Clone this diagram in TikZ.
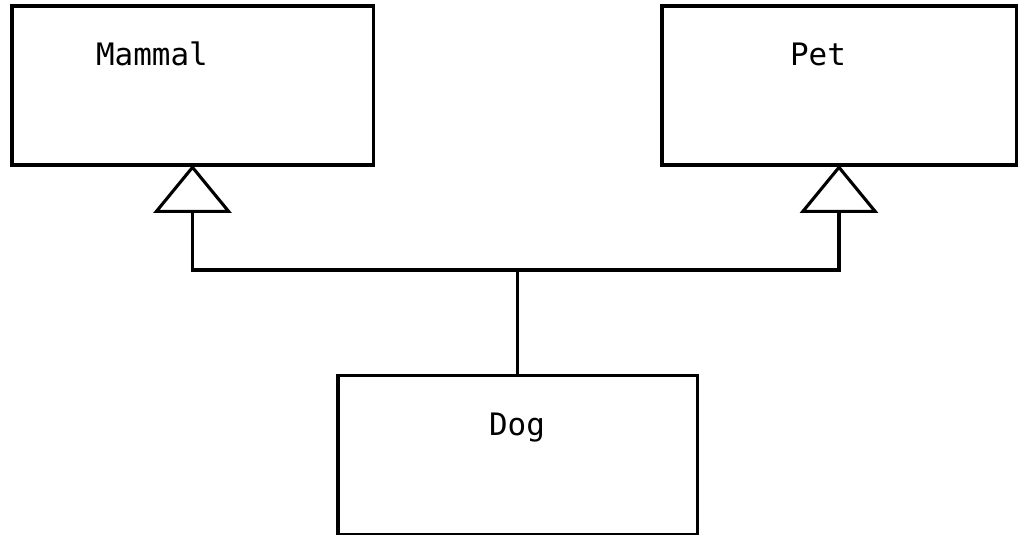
\documentclass[tikz,border=0pt]{standalone}
\usepackage{fontspec}
\newfontfamily\umlfont{DejaVu Sans Mono}
\usetikzlibrary{arrows.meta}
\begin{document}
\begin{tikzpicture}[x=0.025cm, y=-0.025cm, line width=2.2pt,
  classbox/.style={draw, rectangle, line width=2.2pt, minimum height=3.975cm},
  classname/.style={anchor=base, font=\umlfont\fontsize{22}{26}\selectfont},
  isa/.style={-{Triangle[open, width=1.95cm, length=1.2cm, line width=2.2pt]}, shorten >=-1.2pt}]
\useasboundingbox (0,0) rectangle (1028,534);
\node[classbox, minimum width=9.025cm] (Mammal) at (192.5,85.5) {};
\node[classbox, minimum width=8.85cm] (Pet) at (839,85.5) {};
\node[classbox, minimum width=8.975cm] (Dog) at (517.5,455) {};
\node[classname] (MammalName) at (152,65) {Mammal};
\node[classname] (PetName) at (818,65) {Pet};
\node[classname] (DogName) at (517,435) {Dog};

\coordinate (join) at (517.5,270);
\draw (Dog.north) -- (join);
\draw[isa] (join) -| (Mammal.south);
\draw[isa] (join) -| (Pet.south);
\end{tikzpicture}
\end{document}
